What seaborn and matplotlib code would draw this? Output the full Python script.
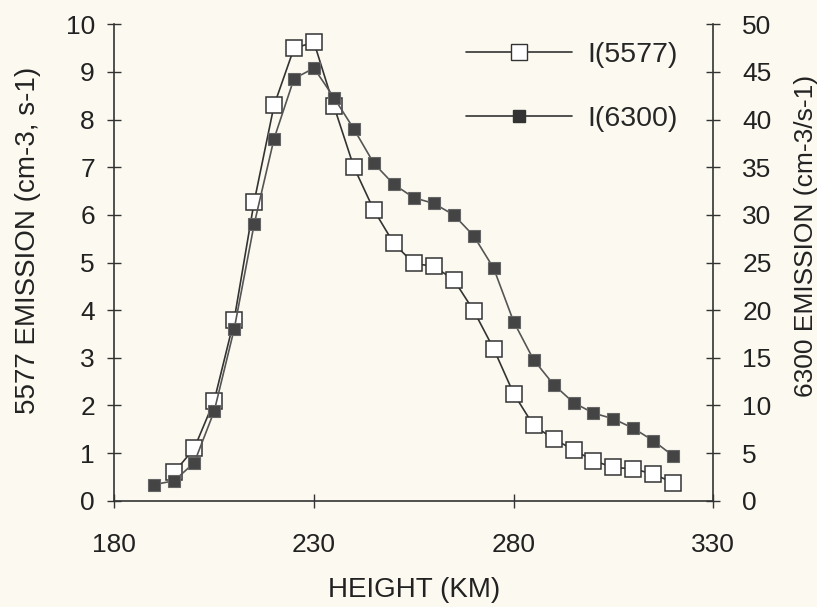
import numpy as np
import pandas as pd
import matplotlib
matplotlib.use("Agg")
import matplotlib.pyplot as plt
import seaborn as sns
from matplotlib.lines import Line2D

# Dados
altura_5577 = [195, 200, 205, 210, 215, 220, 225, 230, 235, 240, 245, 250, 255, 260,
               265, 270, 275, 280, 285, 290, 295, 300, 305, 310, 315, 320]
emissao_5577 = [0.6, 1.1, 2.1, 3.8, 6.27, 8.3, 9.5, 9.62, 8.28, 7.0, 6.1, 5.4, 4.98, 4.92,
                4.64, 3.99, 3.19, 2.25, 1.58, 1.3, 1.07, 0.84, 0.7, 0.67, 0.56, 0.38]

altura_6300 = [190, 195, 200, 205, 210, 215, 220, 225, 230, 235, 240, 245, 250, 255, 260,
               265, 270, 275, 280, 285, 290, 295, 300, 305, 310, 315, 320]
emissao_6300 = [1.7, 2.1, 4.0, 9.4, 18.0, 29.0, 38.0, 44.3, 45.4, 42.3, 39.0, 35.4, 33.2, 31.8,
                31.2, 30.0, 27.8, 24.4, 18.8, 14.8, 12.2, 10.3, 9.2, 8.6, 7.6, 6.3, 4.7]

xticks = [180, 230, 280, 330]
yticks_esq = list(range(0, 11))
yticks_dir = list(range(0, 51, 5))

df5577 = pd.DataFrame({"Altura": altura_5577, "Emissao": emissao_5577})
df6300 = pd.DataFrame({"Altura": altura_6300, "Emissao": emissao_6300})

sns.set_style("ticks")
plt.rcParams["font.family"] = ["Liberation Sans", "DejaVu Sans"]
fundo = "#fcfaf0"
tinta = "#222222"

fig = plt.figure(figsize=(8.17, 6.07), dpi=100, facecolor=fundo)
ax = fig.add_axes([0.14, 0.175, 0.733, 0.785])
ax.set_facecolor(fundo)
ax2 = ax.twinx()

sns.lineplot(data=df5577, x="Altura", y="Emissao", ax=ax, color="#333333", lw=1.2,
             marker="s", markersize=11, markerfacecolor="white", markeredgecolor="#333333",
             markeredgewidth=1.1, zorder=3)
sns.lineplot(data=df6300, x="Altura", y="Emissao", ax=ax2, color="#555555", lw=1.2,
             marker="s", markersize=8.5, markerfacecolor="#444444", markeredgecolor="#666666",
             markeredgewidth=0.8, zorder=2)

ax.set_xlim(180, 330)
ax.set_ylim(0, 10)
ax2.set_ylim(0, 50)
ax.set_xticks(xticks)
ax.set_yticks(yticks_esq)
ax2.set_yticks(yticks_dir)

for a in (ax, ax2):
    a.spines["top"].set_visible(False)
    for s in a.spines.values():
        s.set_color("#333333")
        s.set_linewidth(1.2)
    a.tick_params(direction="inout", length=10, width=1, colors="#333333",
                  labelcolor=tinta, labelsize=19)
ax.spines["right"].set_visible(False)
ax2.spines["left"].set_visible(False)
ax2.spines["bottom"].set_visible(False)
ax.tick_params(axis="x", pad=18)
ax.tick_params(axis="y", pad=9)
ax2.tick_params(axis="y", pad=16)

ax.set_xlabel("HEIGHT (KM)", fontsize=20, color=tinta)
ax.set_ylabel("5577 EMISSION (cm-3, s-1)", fontsize=20, color=tinta)
ax2.set_ylabel("6300 EMISSION (cm-3/s-1)", fontsize=19, color=tinta)
ax.xaxis.set_label_coords(0.5, -0.187)
ax.xaxis.label.set_va("center")
ax.yaxis.set_label_coords(-0.145, 0.547)
ax.yaxis.label.set_va("center")
ax2.yaxis.set_label_coords(1.155, 0.556)
ax2.yaxis.label.set_va("center")

handles = [
    Line2D([], [], color="#333333", lw=1.2, marker="s", markersize=11,
           markerfacecolor="white", markeredgecolor="#333333"),
    Line2D([], [], color="#333333", lw=1.2, marker="s", markersize=9,
           markerfacecolor="#333333", markeredgecolor="#333333"),
]
ax.legend(handles, ["I(5577)", "I(6300)"], loc="upper left",
          bbox_to_anchor=(0.545, 1.016), frameon=False, handlelength=3.72,
          fontsize=20.5, labelspacing=1.33, handletextpad=0.53)

plt.savefig("out.png", dpi=100, facecolor=fundo)
plt.close()
